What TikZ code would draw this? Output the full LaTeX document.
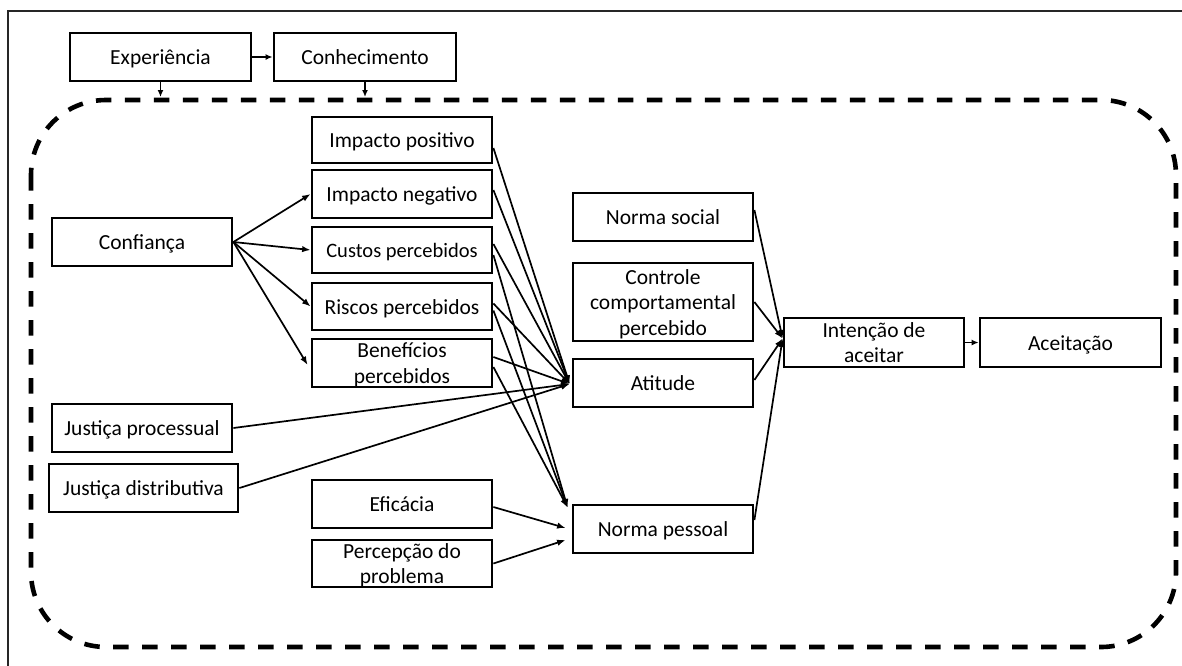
\documentclass[tikz,border=0pt]{standalone}
\usepackage{fontspec}
\setmainfont{Carlito}
\usetikzlibrary{arrows.meta,calc}
\newcommand\bxstrut{\rule[-5.25pt]{0pt}{25.5pt}}
\newcommand\bxml[2]{\raisebox{#1}[0pt][0pt]{\def\arraystretch{0}\begin{tabular}[t]{@{}c@{}}#2\end{tabular}}}
\begin{document}
\begin{tikzpicture}[x=1pt,y=-1pt,
  box/.style={draw=black, line width=2.8pt, inner sep=0pt, align=center,
    font=\fontsize{21.5}{25.5}\selectfont},
  arr/.style={line width=1.7pt, -{Latex[length=8.5pt,width=6.5pt]}},
  sarr/.style={line width=1.7pt, -{Latex[length=7pt,width=6pt]}},
  frameline/.style={line width=1.4pt, black!85},
  dashbox/.style={line width=4.6pt, dash pattern=on 15.5pt off 13.5pt, rounded corners=75pt}]
\useasboundingbox (0,0) rectangle (1182,665);
\fill[white] (0,0) rectangle (1182,665);
\draw[frameline] (8,672) -- (8,11) -- (1190,11);
\draw[dashbox] (31,100) rectangle (1176,647);
\coordinate (dtop) at (0,97);

% nodes
\node[box, minimum width=181pt, minimum height=48pt] (exp) at (160.5,57) {\bxstrut Experiência};
\node[box, minimum width=182pt, minimum height=48pt] (con) at (365,57) {\bxstrut Conhecimento};
\node[box, minimum width=180pt, minimum height=48pt] (conf) at (142,242) {\bxstrut Confiança};
\node[box, minimum width=180pt, minimum height=46pt] (ip) at (402,140) {\bxstrut Impacto positivo};
\node[box, minimum width=180pt, minimum height=48pt] (ineg) at (402,194) {\bxstrut Impacto negativo};
\node[box, minimum width=180pt, minimum height=46pt, font=\fontsize{20.5}{25.5}\selectfont] (cp) at (402,250) {\bxstrut Custos percebidos};
\node[box, minimum width=180pt, minimum height=47pt] (rp) at (402,306.5) {\bxstrut Riscos percebidos};
\node[box, minimum width=180pt, minimum height=48pt] (bp) at (402,363) {\bxml{5.25pt}{\bxstrut Benefícios\\\bxstrut percebidos}};
\node[box, minimum width=180pt, minimum height=48pt] (jp) at (142,428) {\bxstrut Justiça processual};
\node[box, minimum width=189pt, minimum height=48pt] (jd) at (143.5,488) {\bxstrut Justiça distributiva};
\node[box, minimum width=180pt, minimum height=48pt] (ef) at (402,504) {\bxstrut Eficácia};
\node[box, minimum width=180pt, minimum height=47pt] (pp) at (402,563.5) {\bxml{5.25pt}{\bxstrut Percepção do\\\bxstrut problema}};
\node[box, minimum width=180pt, minimum height=48pt] (ns) at (663,217) {\bxstrut Norma social};
\node[box, minimum width=180pt, minimum height=78pt] (cc) at (663,302) {\bxml{18pt}{\bxstrut Controle\\\bxstrut comportamental\\\bxstrut percebido}};
\node[box, minimum width=180pt, minimum height=48pt] (at) at (663,383) {\bxstrut Atitude};
\node[box, minimum width=180pt, minimum height=48pt] (np) at (663,529) {\bxstrut Norma pessoal};
\node[box, minimum width=180pt, minimum height=49pt] (it) at (874,342.5) {\bxml{5.25pt}{\bxstrut Intenção de\\\bxstrut aceitar}};
\node[box, minimum width=181pt, minimum height=49pt] (ac) at (1070.5,342.5) {\bxstrut Aceitação};

% top arrows
\draw[sarr] (exp.east) -- (con.west);
\draw[sarr] (exp.south) -- (exp.south |- dtop);
\draw[sarr] (con.south) -- (con.south |- dtop);

% Confianca fan
\draw[arr] (conf.east) -- (ineg.west);
\draw[arr] (conf.east) -- (cp.west);
\draw[arr] (conf.east) -- (rp.west);
\draw[arr] (conf.east) -- ($(bp.west)+(-3,2)$);

% into Atitude
\coordinate (atin) at ($(at.west)+(-2,1)$);
\draw[arr] ($(ip.east)+(0,8)$) -- (atin);
\draw[arr] ($(ineg.east)+(0,-4)$) -- (atin);
\draw[arr] ($(cp.east)+(0,-6)$) -- (atin);
\draw[arr] ($(rp.east)+(0,-3)$) -- (atin);
\draw[arr] ($(bp.east)+(0,-6)$) -- (atin);
\draw[arr] (jp.east) -- (atin);
\draw[arr] (jd.east) -- (atin);

% into Norma pessoal
\coordinate (npin) at ($(np.north west)+(-4,4)$);
\draw[arr] ($(cp.east)+(0,5)$) -- (npin);
\draw[arr] ($(rp.east)+(0,4)$) -- (npin);
\draw[arr] ($(bp.east)+(0,4)$) -- (npin);
\draw[arr] ($(ef.east)+(0,3)$) -- ($(np.west)+(-6,-1)$);
\draw[arr] (pp.east) -- ($(np.west)+(-6,11)$);

% into Intencao
\coordinate (itin) at ($(it.west)+(0,-4)$);
\draw[arr] ($(ns.east)+(0,-7)$) -- (itin);
\draw[arr] (cc.east) -- (itin);
\draw[arr] ($(at.east)+(0,-3)$) -- (itin);
\draw[arr] ($(np.east)+(0,-9)$) -- (itin);

\draw[sarr] (it.east) -- (ac.west);
\end{tikzpicture}
\end{document}
